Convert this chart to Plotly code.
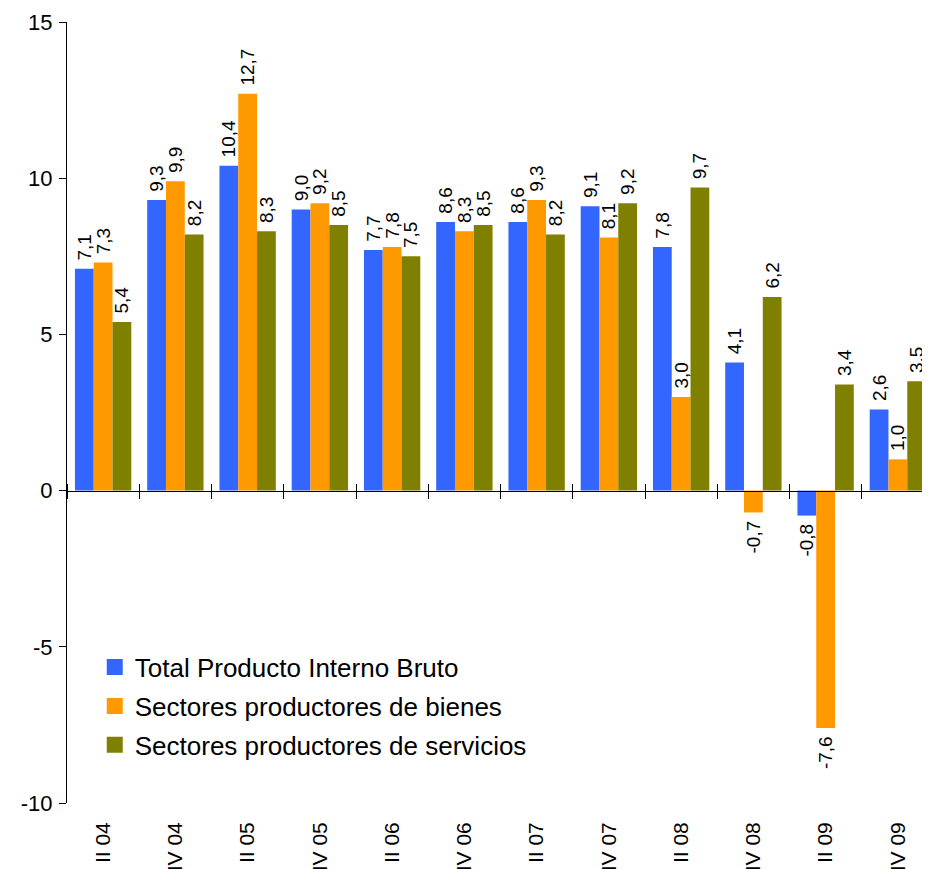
import plotly.graph_objects as go
import numpy as np

categories = ["II 04", "IV 04", "II 05", "IV 05", "II 06", "IV 06",
              "II 07", "IV 07", "II 08", "IV 08", "II 09", "IV 09"]
pib_total = [7.1, 9.3, 10.4, 9.0, 7.7, 8.6, 8.6, 9.1, 7.8, 4.1, -0.8, 2.6]
bienes = [7.3, 9.9, 12.7, 9.2, 7.8, 8.3, 9.3, 8.1, 3.0, -0.7, -7.6, 1.0]
servicios = [5.4, 8.2, 8.3, 8.5, 7.5, 8.5, 8.2, 9.2, 9.7, 6.2, 3.4, 3.5]
y_ticks = [-10, -5, 0, 5, 10, 15]

series = [
    ("Total Producto Interno Bruto", pib_total, "#3366FF"),
    ("Sectores productores de bienes", bienes, "#FF9900"),
    ("Sectores productores de servicios", servicios, "#808000"),
]

FONT = "Liberation Sans, Arial, sans-serif"
NBSP = "\u00a0"

def fmt(v):
    s = f"{v:.1f}".replace(".", ",")
    # small spacer on the side facing the bar end
    return NBSP + s if v >= 0 else s + NBSP

fig = go.Figure()
for i, (name, vals, color) in enumerate(series):
    fig.add_trace(go.Bar(
        x=categories, y=vals, name=name,
        marker=dict(color=color, line=dict(width=0)),
        text=[fmt(v) for v in vals],
        textposition="outside", textangle=-90,
        constraintext="none", cliponaxis=False,
        textfont=dict(family=FONT, size=19, color="black"),
        showlegend=False,
    ))

# legend entries with larger square swatches
for i, (name, vals, color) in enumerate(series):
    fig.add_trace(go.Scatter(
        x=[None], y=[None], mode="markers", name=name,
        marker=dict(symbol="square", size=16, color=color),
        legendgroup=f"g{i}", hoverinfo="skip",
    ))

n = len(categories)
boundaries = list(np.arange(n + 1) - 0.5)
zero_pos = (0 - y_ticks[0]) / (y_ticks[-1] - y_ticks[0])

# empty traces so the overlay axes exist
fig.add_trace(go.Scatter(x=[], y=[], xaxis="x2", yaxis="y", showlegend=False, hoverinfo="skip"))
fig.add_trace(go.Scatter(x=[], y=[], xaxis="x3", yaxis="y", showlegend=False, hoverinfo="skip"))

fig.update_layout(
    width=930, height=869,
    margin=dict(l=59, r=4, t=14, b=74),
    paper_bgcolor="white", plot_bgcolor="white",
    barmode="group", bargap=0.22, bargroupgap=0,
    font=dict(family=FONT, color="black"),
    showlegend=True,
    legend=dict(
        x=0.032, y=0.204, xanchor="left", yanchor="top",
        font=dict(family=FONT, size=26, color="black"),
        bgcolor="rgba(0,0,0,0)", traceorder="grouped", tracegroupgap=2,
        itemwidth=30,
    ),
    xaxis=dict(
        type="category", categoryorder="array", categoryarray=categories,
        range=[-0.5, n - 0.5], automargin=False,
        showline=False, ticks="", showgrid=False, zeroline=False,
        tickangle=-90, tickfont=dict(family=FONT, size=21, color="black"),
        ticklabelstandoff=14,
    ),
    xaxis2=dict(
        overlaying="x", anchor="free", position=zero_pos, automargin=False,
        range=[-0.5, n - 0.5], tickmode="array", tickvals=boundaries,
        ticks="outside", ticklen=7, tickwidth=1, tickcolor="black",
        showticklabels=False, showline=True, linecolor="black", linewidth=1,
        showgrid=False, zeroline=False,
    ),
    xaxis3=dict(
        overlaying="x", anchor="free", position=zero_pos, side="top", automargin=False,
        range=[-0.5, n - 0.5], tickmode="array", tickvals=boundaries,
        ticks="outside", ticklen=7, tickwidth=1, tickcolor="black",
        showticklabels=False, showline=False,
        showgrid=False, zeroline=False,
    ),
    yaxis=dict(
        range=[y_ticks[0], y_ticks[-1]], tickmode="array", tickvals=y_ticks,
        ticktext=[str(t) for t in y_ticks], automargin=False,
        ticks="outside", ticklen=7, tickcolor="black",
        showline=True, linecolor="black", linewidth=1,
        showgrid=False, zeroline=False,
        tickfont=dict(family=FONT, size=22, color="black"),
        ticklabelstandoff=2,
    ),
)

fig.write_html("out.html")
